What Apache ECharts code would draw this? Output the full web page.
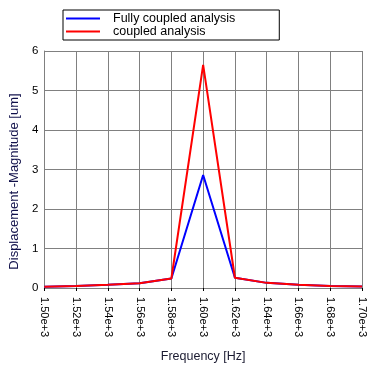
<!DOCTYPE html>
<html><head><meta charset="utf-8">
<script src="https://cdn.jsdelivr.net/npm/echarts@6/dist/echarts.min.js"></script>
<style>html,body{margin:0;padding:0;background:#fff}#c{width:392px;height:373px}</style>
</head><body><div id="c"></div>
<script>
var frequencies = [1500,1520,1540,1560,1580,1600,1620,1640,1660,1680,1700];
var fullyCoupled = [0.03,0.05,0.08,0.12,0.24,2.86,0.26,0.13,0.08,0.05,0.04];
var coupled = [0.03,0.05,0.08,0.12,0.24,5.65,0.26,0.13,0.08,0.05,0.04];
var seriesNames = ['Fully coupled analysis','coupled analysis'];
var yTicks = [0,1,2,3,4,5,6];
var font = 'Liberation Sans';
var chart = echarts.init(document.getElementById('c'));
function pairs(ys){return frequencies.map(function(x,i){return [x,ys[i]];});}
chart.setOption({
  animation:false,
  backgroundColor:'#ffffff',
  textStyle:{fontFamily:font},
  legend:{
    orient:'vertical', left:63, top:10, width:216,
    padding:[2,44,2,3], itemGap:0, itemWidth:34, itemHeight:2,
    icon:'rect',
    borderColor:'#000', borderWidth:1,
    textStyle:{fontFamily:font,fontSize:12.5,lineHeight:13,color:'#000',padding:[0,0,0,8]},
    data:seriesNames
  },
  grid:{left:44,right:30,top:51,bottom:85},
  xAxis:{
    type:'value', min:1500, max:1700, interval:20,
    name:'Frequency [Hz]', nameLocation:'middle', nameGap:62,
    nameTextStyle:{fontFamily:font,fontSize:12.5,color:'#1a1a30'},
    axisLine:{show:true,lineStyle:{color:'#808080',width:1}},
    axisTick:{show:true,length:3,lineStyle:{color:'#000'}},
    splitLine:{show:true,lineStyle:{color:'#808080',width:1}},
    axisLabel:{rotate:-90,fontFamily:font,fontSize:11,color:'#000',margin:9,
      formatter:function(v){return (v/1000).toFixed(2)+'e+3';}}
  },
  yAxis:{
    type:'value', min:yTicks[0], max:yTicks[yTicks.length-1], interval:1,
    name:'Displacement -Magnitude [um]', nameLocation:'middle', nameGap:20,
    nameTextStyle:{fontFamily:font,fontSize:13,color:'#10104a',padding:[0,24,0,0]},
    axisLine:{show:true,lineStyle:{color:'#808080',width:1}},
    axisTick:{show:false},
    splitLine:{show:true,lineStyle:{color:'#808080',width:1}},
    axisLabel:{fontFamily:font,fontSize:11.5,color:'#000',margin:6}
  },
  series:[
    {name:seriesNames[0],type:'line',data:pairs(fullyCoupled),symbol:'none',z:2,
     lineStyle:{color:'#0000ff',width:2},itemStyle:{color:'#0000ff'}},
    {name:seriesNames[1],type:'line',data:pairs(coupled),symbol:'none',z:3,
     lineStyle:{color:'#ff0000',width:2},itemStyle:{color:'#ff0000'}}
  ]
});
</script></body></html>
